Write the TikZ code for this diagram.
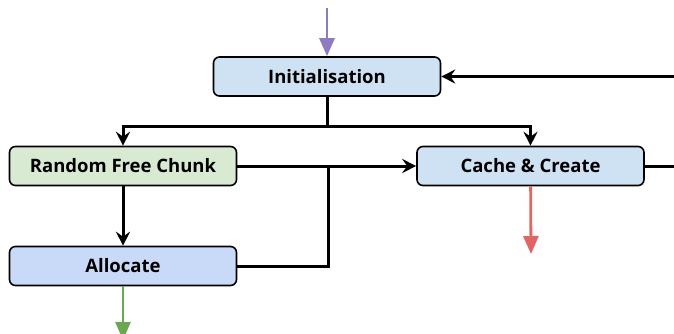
\documentclass[tikz,border=0pt]{standalone}
\usepackage{fontspec}
\setmainfont{Open Sans}
\usetikzlibrary{arrows.meta,positioning}
\definecolor{initblue}{HTML}{CFE2F3}
\definecolor{allocblue}{HTML}{C9DAF8}
\definecolor{chunkgreen}{HTML}{D9EAD3}
\definecolor{inpurple}{HTML}{8E7CC3}
\definecolor{failred}{HTML}{E06666}
\definecolor{okgreen}{HTML}{6AA84F}

\begin{document}
\begin{tikzpicture}[x=1pt,y=-1pt,>={Stealth[length=14pt,width=14pt,inset=5pt]},
  box/.style={draw, rounded corners=6pt, line width=1.6pt, minimum width=227pt, minimum height=39pt, font=\bfseries\fontsize{18.5}{21}\selectfont},
  flow/.style={->, line width=3pt},
  wire/.style={line width=3pt},
  exitarrow/.style={line width=2.8pt, -{Triangle[length=18pt,width=15pt]}}]
  \useasboundingbox (0,0) rectangle (674,333);
  \clip (0,0) rectangle (674,333);
    \node [box, fill=initblue] (init) at (327,76.5) {Initialisation};
    \node [box, fill=chunkgreen] (chunk) at (123,166) {Random Free Chunk};
    \node [box, fill=initblue] (cache) at (530.5,166) {Cache \& Create};
    \node [box, fill=allocblue] (alloc) at (123,266) {Allocate};
    \coordinate (start) at (327,8);
    \coordinate (split) at (327,126);
    \coordinate (join) at (328,166);
    \coordinate (fail) at (531,254);
    \coordinate (done) at (123,340);
    \draw[exitarrow, inpurple] (start) -- (init);
    \draw[wire] (init) -- (split);
    \draw[flow] (split) -| (chunk);
    \draw[flow] (split) -| (cache);
    \draw[flow] (chunk) -- (cache);
    \draw[flow] (chunk) -- (alloc);
    \draw[wire] (alloc.east) -| (join);
    \draw[flow] (cache.east) -- ++(40,0) |- (init.east);
    \draw[exitarrow, failred] (cache) -- (fail);
    \draw[exitarrow, okgreen] (alloc) -- (done);
\end{tikzpicture}
\end{document}
